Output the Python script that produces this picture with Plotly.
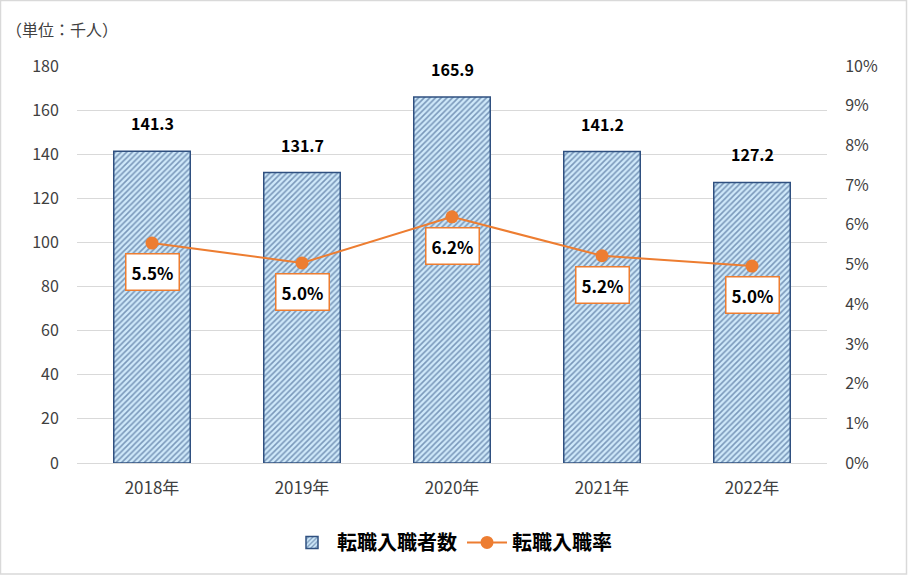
import plotly.graph_objects as go

years = ["2018年", "2019年", "2020年", "2021年", "2022年"]
hires = [141.3, 131.7, 165.9, 141.2, 127.2]
rate = [5.54, 5.04, 6.2, 5.22, 4.96]
rate_labels = ["5.5%", "5.0%", "6.2%", "5.2%", "5.0%"]
left_ticks = [0, 20, 40, 60, 80, 100, 120, 140, 160, 180]
right_ticks = [0, 1, 2, 3, 4, 5, 6, 7, 8, 9, 10]

FONT = "Noto Sans CJK JP"
ORANGE = "#ed7d31"

fig = go.Figure()
fig.add_trace(go.Bar(
    x=years, y=hires, name="<b>転職入職者数</b>",
    width=0.51,
    marker=dict(color="#cfe9fa", line=dict(color="#2f5080", width=1.5),
                pattern=dict(shape="/", fgcolor="#26477a", bgcolor="#cfe9fa", size=4, solidity=0.4)),
))
fig.add_trace(go.Scatter(
    x=years, y=rate, name="<b>転職入職率</b>", yaxis="y2",
    mode="lines+markers",
    line=dict(color=ORANGE, width=2),
    marker=dict(color=ORANGE, size=13),
))
for x, y in zip(years, hires):
    fig.add_annotation(x=x, y=y, text=f"<b>{y:.1f}</b>", showarrow=False,
                       yanchor="bottom", yshift=14,
                       font=dict(family=FONT, size=16, color="#000"))
for x, y, t in zip(years, rate, rate_labels):
    fig.add_annotation(x=x, y=y, yref="y2", text=f"<b>{t}</b>", showarrow=False,
                       yshift=-29, font=dict(family=FONT, size=17, color="#000"),
                       bgcolor="white", bordercolor=ORANGE, borderwidth=1.5, borderpad=5)

fig.add_annotation(xref="paper", yref="paper", x=-0.098, y=1.093, xanchor="left", yanchor="middle",
                   text="（単位：千人）", showarrow=False,
                   font=dict(family=FONT, size=16, color="#404040"))

fig.update_layout(
    width=908, height=575,
    margin=dict(l=77, r=81, t=66, b=112),
    paper_bgcolor="white", plot_bgcolor="white",
    font=dict(family=FONT, color="#404040"),
    xaxis=dict(tickfont=dict(size=17, color="#404040"), showline=True, linecolor="#d9d9d9",
               ticks="outside", ticklen=10, tickcolor="white", showgrid=False),
    yaxis=dict(range=[0, 180], tickvals=left_ticks, showgrid=True, gridcolor="#d9d9d9",
               tickfont=dict(size=16, color="#404040"), ticks="outside", ticklen=14,
               tickcolor="white", zeroline=False),
    yaxis2=dict(range=[0, 10], tickvals=right_ticks, ticktext=[f"{v}%" for v in right_ticks],
                overlaying="y", side="right", showgrid=False, zeroline=False,
                tickfont=dict(size=16, color="#404040"), ticks="outside", ticklen=14,
                tickcolor="white"),
    legend=dict(orientation="h", x=0.5, xanchor="center", y=-0.2, yanchor="middle",
                font=dict(family=FONT, size=20, color="#000"), itemwidth=40),
    shapes=[dict(type="rect", xref="paper", yref="paper",
                 x0=-77/750 + 0.5/750, x1=1 + 81/750 - 1.5/750,
                 y0=-112/397 + 1/397, y1=1 + 66/397 - 0.5/397,
                 line=dict(color="#d9d9d9", width=1.5), layer="below")],
)
fig.write_html("out.html", config={"displayModeBar": False},
               post_script="document.body.style.margin='0';")
